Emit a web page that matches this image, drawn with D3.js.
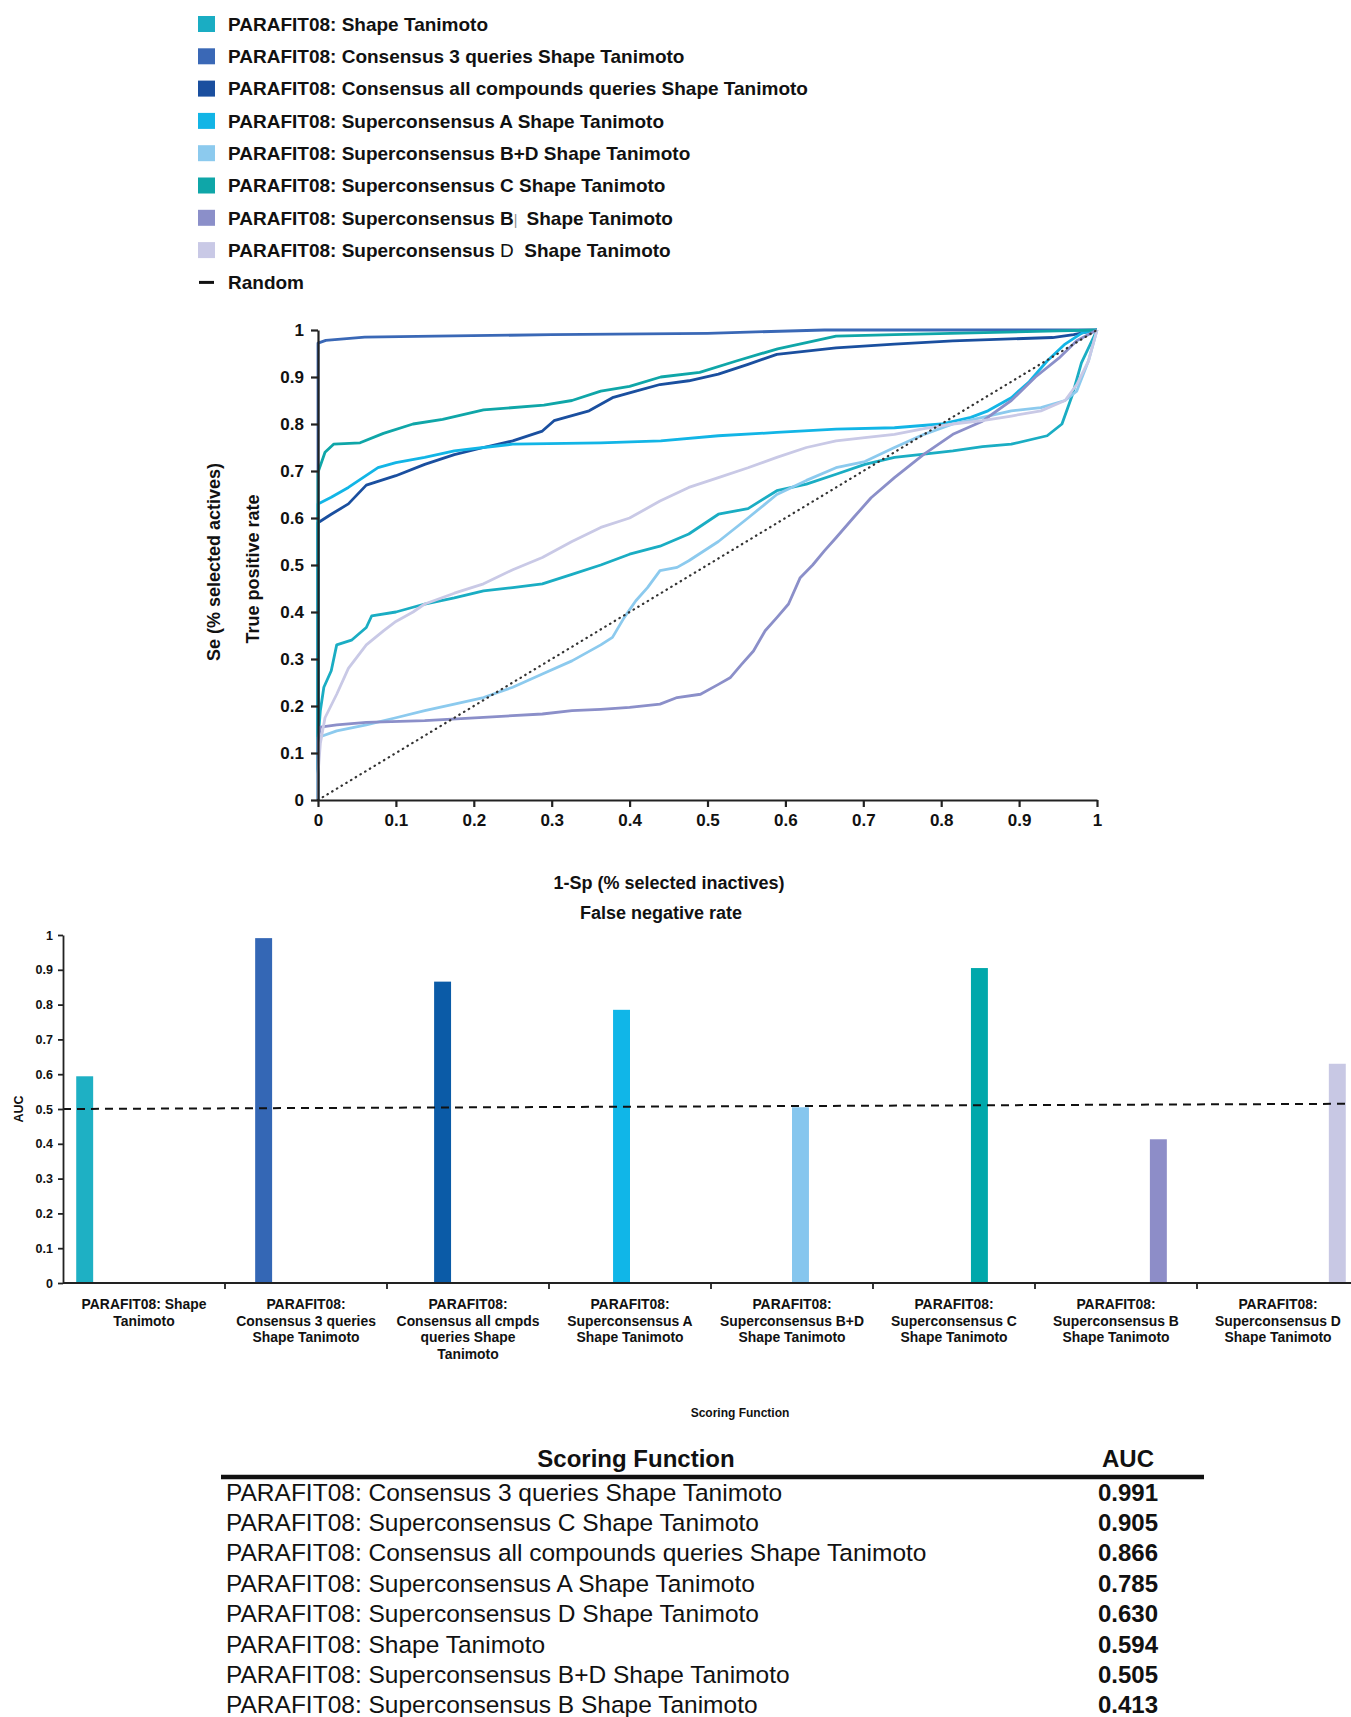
<!DOCTYPE html>
<html>
<head>
<meta charset="utf-8">
<script src="https://cdn.jsdelivr.net/npm/d3@7"></script>
<style>
  body { margin: 0; background: #fff; }
  svg { display: block; font-family: "Liberation Sans", Arial, Helvetica, sans-serif; }
  .axis path, .axis line { stroke: #222; }
  .axis text { fill: #111; font-weight: bold; }
</style>
</head>
<body>
<div id="chart"></div>
<script>
// ---- data ----

// series names as in the legend, one colour each
const seriesNames = [
  'PARAFIT08: Shape Tanimoto',
  'PARAFIT08: Consensus 3 queries Shape Tanimoto',
  'PARAFIT08: Consensus all compounds queries Shape Tanimoto',
  'PARAFIT08: Superconsensus A Shape Tanimoto',
  'PARAFIT08: Superconsensus B+D Shape Tanimoto',
  'PARAFIT08: Superconsensus C Shape Tanimoto',
  'PARAFIT08: Superconsensus B',
  'PARAFIT08: Superconsensus ',
];
const seriesColors = ['#1aadc3', '#3a68b6', '#1a4f9f', '#12b5e6', '#8ccaee', '#0fa6a8', '#8b8fc9', '#c9c9e6'];

// ROC curves, [1-Sp, Se] pairs
const rocShapeTanimoto = [[0, 0], [0, 0.126], [0.003, 0.19], [0.0075, 0.24], [0.017, 0.275], [0.024, 0.33], [0.043, 0.34],
  [0.062, 0.367], [0.069, 0.392], [0.1, 0.4], [0.137, 0.417], [0.175, 0.43], [0.2125, 0.445], [0.25, 0.452], [0.288, 0.46],
  [0.326, 0.48], [0.363, 0.5], [0.4, 0.523], [0.439, 0.54], [0.476, 0.566], [0.514, 0.608], [0.552, 0.62], [0.589, 0.658],
  [0.627, 0.672], [0.665, 0.693], [0.702, 0.714], [0.74, 0.729], [0.778, 0.736], [0.815, 0.743], [0.853, 0.752],
  [0.89, 0.757], [0.936, 0.775], [0.955, 0.8], [0.968, 0.86], [0.98, 0.93], [1, 1]];
const rocConsensus3 = [[0, 0], [0, 0.972], [0.01, 0.978], [0.06, 0.985], [0.15, 0.987], [0.3, 0.99], [0.5, 0.993],
  [0.65, 1], [1, 1]];
const rocConsensusAll = [[0, 0], [0, 0.59], [0.017, 0.608], [0.039, 0.63], [0.062, 0.67], [0.1, 0.69], [0.137, 0.714],
  [0.175, 0.735], [0.2125, 0.75], [0.25, 0.764], [0.288, 0.785], [0.303, 0.807], [0.348, 0.828], [0.378, 0.856],
  [0.408, 0.87], [0.439, 0.884], [0.476, 0.892], [0.514, 0.906], [0.552, 0.927], [0.589, 0.948], [0.665, 0.962],
  [0.74, 0.97], [0.815, 0.977], [0.943, 0.984], [0.97, 0.99], [1, 1]];
const rocSuperA = [[0, 0], [0, 0.63], [0.017, 0.644], [0.039, 0.665], [0.077, 0.707], [0.1, 0.718], [0.137, 0.729],
  [0.175, 0.743], [0.2125, 0.75], [0.25, 0.757], [0.363, 0.76], [0.44, 0.764], [0.514, 0.775], [0.589, 0.782],
  [0.665, 0.789], [0.74, 0.792], [0.8, 0.8], [0.838, 0.814], [0.86, 0.828], [0.89, 0.856], [0.913, 0.89],
  [0.936, 0.934], [0.959, 0.97], [0.981, 0.994], [1, 1]];
const rocSuperBD = [[0, 0], [0, 0.133], [0.024, 0.147], [0.062, 0.16], [0.1, 0.175], [0.137, 0.19], [0.175, 0.204],
  [0.2125, 0.218], [0.25, 0.24], [0.288, 0.268], [0.326, 0.296], [0.363, 0.33], [0.378, 0.346], [0.393, 0.388],
  [0.408, 0.424], [0.423, 0.452], [0.439, 0.488], [0.461, 0.495], [0.476, 0.509], [0.514, 0.55], [0.552, 0.6],
  [0.589, 0.65], [0.627, 0.68], [0.665, 0.707], [0.702, 0.72], [0.74, 0.75], [0.778, 0.778], [0.815, 0.8],
  [0.853, 0.814], [0.89, 0.828], [0.928, 0.835], [0.959, 0.85], [0.974, 0.87], [0.989, 0.934], [1, 1]];
const rocSuperC = [[0, 0], [0, 0.697], [0.009, 0.74], [0.02, 0.757], [0.054, 0.76], [0.084, 0.78], [0.122, 0.8],
  [0.16, 0.81], [0.2125, 0.83], [0.29, 0.84], [0.326, 0.85], [0.363, 0.87], [0.4, 0.88], [0.44, 0.9], [0.49, 0.91],
  [0.537, 0.934], [0.59, 0.96], [0.627, 0.973], [0.665, 0.987], [0.74, 0.99], [0.95, 0.998], [1, 1]];
const rocSuperB = [[0, 0], [0, 0.126], [0.003, 0.155], [0.024, 0.16], [0.062, 0.165], [0.137, 0.169], [0.2125, 0.176],
  [0.288, 0.183], [0.326, 0.19], [0.363, 0.193], [0.4, 0.197], [0.439, 0.204], [0.461, 0.218], [0.491, 0.225],
  [0.514, 0.246], [0.529, 0.26], [0.544, 0.289], [0.559, 0.317], [0.574, 0.36], [0.589, 0.388], [0.604, 0.417],
  [0.619, 0.473], [0.635, 0.5], [0.65, 0.53], [0.665, 0.558], [0.687, 0.6], [0.71, 0.643], [0.74, 0.686],
  [0.778, 0.736], [0.815, 0.778], [0.853, 0.806], [0.89, 0.85], [0.921, 0.9], [0.951, 0.94], [0.974, 0.977], [1, 1]];
const rocSuperD = [[0, 0], [0, 0.055], [0.003, 0.12], [0.009, 0.175], [0.024, 0.225], [0.039, 0.28], [0.062, 0.33],
  [0.084, 0.36], [0.1, 0.38], [0.122, 0.4], [0.137, 0.417], [0.175, 0.44], [0.2125, 0.46], [0.25, 0.49], [0.288, 0.516],
  [0.326, 0.55], [0.363, 0.58], [0.4, 0.6], [0.439, 0.636], [0.476, 0.665], [0.514, 0.686], [0.552, 0.707],
  [0.589, 0.729], [0.627, 0.75], [0.665, 0.764], [0.702, 0.771], [0.74, 0.778], [0.778, 0.79], [0.815, 0.8],
  [0.853, 0.807], [0.89, 0.817], [0.928, 0.828], [0.959, 0.85], [0.974, 0.884], [0.989, 0.934], [1, 1]];
const rocCurves = [rocShapeTanimoto, rocConsensus3, rocConsensusAll, rocSuperA, rocSuperBD, rocSuperC, rocSuperB, rocSuperD];
const randomLine = [[0, 0], [1, 1]];
const rocTicks = [0, 0.1, 0.2, 0.3, 0.4, 0.5, 0.6, 0.7, 0.8, 0.9, 1];

// bar chart: AUC per scoring function
const barCategories = [
  ['PARAFIT08: Shape', 'Tanimoto'],
  ['PARAFIT08:', 'Consensus 3 queries', 'Shape Tanimoto'],
  ['PARAFIT08:', 'Consensus all cmpds', 'queries Shape', 'Tanimoto'],
  ['PARAFIT08:', 'Superconsensus A', 'Shape Tanimoto'],
  ['PARAFIT08:', 'Superconsensus B+D', 'Shape Tanimoto'],
  ['PARAFIT08:', 'Superconsensus C', 'Shape Tanimoto'],
  ['PARAFIT08:', 'Superconsensus B', 'Shape Tanimoto'],
  ['PARAFIT08:', 'Superconsensus D', 'Shape Tanimoto'],
];
const barAuc = [0.594, 0.991, 0.866, 0.785, 0.505, 0.905, 0.413, 0.630];
const barColors = ['#1eb0c4', '#3467b5', '#0b5ba7', '#10b6e8', '#86c6ee', '#00a8ab', '#8d8dc8', '#c8c8e4'];
const barBaseline = [0.5, 0.515]; // hand-drawn dashed reference line, left and right end
const barTicks = [0, 0.1, 0.2, 0.3, 0.4, 0.5, 0.6, 0.7, 0.8, 0.9, 1];

// table, sorted by AUC
const tableNames = [
  'PARAFIT08: Consensus 3 queries Shape Tanimoto',
  'PARAFIT08: Superconsensus C Shape Tanimoto',
  'PARAFIT08: Consensus all compounds queries Shape Tanimoto',
  'PARAFIT08: Superconsensus A Shape Tanimoto',
  'PARAFIT08: Superconsensus D Shape Tanimoto',
  'PARAFIT08: Shape Tanimoto',
  'PARAFIT08: Superconsensus B+D Shape Tanimoto',
  'PARAFIT08: Superconsensus B Shape Tanimoto',
];
const tableAuc = ['0.991', '0.905', '0.866', '0.785', '0.630', '0.594', '0.505', '0.413'];

// ---- drawing ----
const width = 1351;
const height = 1717;
const svg = d3.select('#chart').append('svg')
  .attr('width', width)
  .attr('height', height);

const fmt = d => String(+d.toFixed(1));

// legend
const legend = svg.append('g').attr('class', 'legend');
const legendRow = i => 24 + i * 32.3;
seriesNames.forEach((name, i) => {
  legend.append('rect')
    .attr('x', 198).attr('y', legendRow(i) - 8)
    .attr('width', 17).attr('height', 16)
    .attr('fill', seriesColors[i]);
  const t = legend.append('text')
    .attr('x', 228).attr('y', legendRow(i) + 6.8)
    .attr('font-size', 19).attr('font-weight', 'bold')
    .attr('fill', '#111')
    .style('white-space', 'pre')
    .text(name);
  // the last two entries have pasted-in letters in the original
  if (i === 6) {
    t.append('tspan').attr('font-weight', 'normal').attr('fill', '#888').attr('font-size', 14).text('| ');
    t.append('tspan').text(' Shape Tanimoto');
  }
  if (i === 7) {
    t.append('tspan').attr('font-weight', 'normal').text('D');
    t.append('tspan').text('  Shape Tanimoto');
  }
});
legend.append('line')
  .attr('x1', 199).attr('x2', 214)
  .attr('y1', legendRow(8)).attr('y2', legendRow(8))
  .attr('stroke', '#111').attr('stroke-width', 3);
legend.append('text')
  .attr('x', 228).attr('y', legendRow(8) + 6.8)
  .attr('font-size', 19).attr('font-weight', 'bold').attr('fill', '#111')
  .text('Random');

// ROC plot
const xRoc = d3.scaleLinear().domain([0, 1]).range([318, 1097]);
const yRoc = d3.scaleLinear().domain([0, 1]).range([800, 330]);
const rocLine = d3.line().x(d => xRoc(d[0])).y(d => yRoc(d[1]));

const roc = svg.append('g').attr('class', 'roc');
roc.selectAll('path.curve')
  .data(rocCurves)
  .join('path')
  .attr('class', 'curve')
  .attr('d', rocLine)
  .attr('fill', 'none')
  .attr('stroke', (d, i) => seriesColors[i])
  .attr('stroke-width', 2.8)
  .attr('stroke-linejoin', 'round');

roc.append('path')
  .attr('d', rocLine(randomLine))
  .attr('fill', 'none')
  .attr('stroke', '#333')
  .attr('stroke-width', 2.2)
  .attr('stroke-dasharray', '0.5,5')
  .attr('stroke-linecap', 'round');

roc.append('g').attr('class', 'axis')
  .attr('transform', `translate(${xRoc(0)},0)`)
  .call(d3.axisLeft(yRoc).tickValues(rocTicks).tickFormat(fmt).tickSize(7).tickSizeOuter(0).tickPadding(7))
  .call(g => g.selectAll('path, line').attr('stroke-width', 2.2))
  .call(g => g.selectAll('text').attr('font-size', 17));

roc.append('g').attr('class', 'axis')
  .attr('transform', `translate(0,${yRoc(0)})`)
  .call(d3.axisBottom(xRoc).tickValues(rocTicks).tickFormat(fmt).tickSize(7).tickSizeOuter(0).tickPadding(7))
  .call(g => g.selectAll('path, line').attr('stroke-width', 2.2))
  .call(g => g.selectAll('text').attr('font-size', 17));

const rocTitle = (txt, x, y, rotate) => roc.append('text')
  .attr('transform', `translate(${x},${y})${rotate ? ' rotate(-90)' : ''}`)
  .attr('text-anchor', 'middle')
  .attr('font-size', 18).attr('font-weight', 'bold').attr('fill', '#111')
  .text(txt);
rocTitle('1-Sp (% selected inactives)', 669, 889, false);
rocTitle('False negative rate', 661, 919, false);
rocTitle('Se (% selected actives)', 220, 562, true);
rocTitle('True positive rate', 259, 569, true);

// bar chart: one series per scoring function, Excel-style grouped slots
const x0 = d3.scaleBand().domain(d3.range(barCategories.length)).range([63, 63 + 8 * 162]).padding(0);
const x1 = d3.scaleBand().domain(d3.range(barCategories.length)).range([0, x0.bandwidth()])
  .paddingInner(0).paddingOuter(0.78);
const yBar = d3.scaleLinear().domain([0, 1]).range([1283, 935]);

const bars = svg.append('g').attr('class', 'bars');
bars.selectAll('rect')
  .data(barAuc)
  .join('rect')
  .attr('x', (d, i) => x0(i) + x1(i))
  .attr('width', x1.bandwidth())
  .attr('y', d => yBar(d))
  .attr('height', d => yBar(0) - yBar(d))
  .attr('fill', (d, i) => barColors[i]);

bars.append('line')
  .attr('x1', x0(0)).attr('x2', width)
  .attr('y1', yBar(barBaseline[0]))
  .attr('y2', yBar(barBaseline[1]))
  .attr('stroke', '#111').attr('stroke-width', 2)
  .attr('stroke-dasharray', '8,6');

bars.append('g').attr('class', 'axis')
  .attr('transform', `translate(${x0(0)},0)`)
  .call(d3.axisLeft(yBar).tickValues(barTicks).tickFormat(fmt).tickSize(5).tickSizeOuter(0).tickPadding(5))
  .call(g => g.selectAll('path, line').attr('stroke-width', 1.8))
  .call(g => g.selectAll('text').attr('font-size', 12.5));

// category axis: ticks between categories, labels centred
const catAxis = bars.append('g').attr('class', 'axis');
catAxis.append('line')
  .attr('x1', x0(0)).attr('x2', x0.range()[1])
  .attr('y1', yBar(0)).attr('y2', yBar(0))
  .attr('stroke-width', 2.2);
catAxis.selectAll('line.tick')
  .data(d3.range(1, barCategories.length + 1))
  .join('line')
  .attr('class', 'tick')
  .attr('x1', i => x0.range()[0] + i * x0.step())
  .attr('x2', i => x0.range()[0] + i * x0.step())
  .attr('y1', yBar(0)).attr('y2', yBar(0) + 6)
  .attr('stroke-width', 1.8);
catAxis.selectAll('text.cat')
  .data(barCategories)
  .join('text')
  .attr('class', 'cat')
  .attr('text-anchor', 'middle')
  .attr('font-size', 13.9)
  .attr('y', yBar(0) + 26)
  .each(function addLines(lines, i) {
    d3.select(this).selectAll('tspan')
      .data(lines)
      .join('tspan')
      .attr('x', x0(i) + x0.bandwidth() / 2)
      .attr('dy', (d, k) => (k === 0 ? 0 : 16.5))
      .text(d => d);
  });

bars.append('text')
  .attr('transform', `translate(23,${yBar(0.5)}) rotate(-90)`)
  .attr('text-anchor', 'middle')
  .attr('font-size', 12.5).attr('font-weight', 'bold').attr('fill', '#111')
  .text('AUC');
bars.append('text')
  .attr('x', 740).attr('y', 1417)
  .attr('text-anchor', 'middle')
  .attr('font-size', 12).attr('font-weight', 'bold').attr('fill', '#111')
  .text('Scoring Function');

// table
const table = svg.append('g').attr('class', 'table');
table.append('text')
  .attr('x', 636).attr('y', 1467)
  .attr('text-anchor', 'middle')
  .attr('font-size', 24).attr('font-weight', 'bold').attr('fill', '#111')
  .text('Scoring Function');
table.append('text')
  .attr('x', 1128).attr('y', 1467)
  .attr('text-anchor', 'middle')
  .attr('font-size', 24).attr('font-weight', 'bold').attr('fill', '#111')
  .text('AUC');
table.append('line')
  .attr('x1', 221).attr('x2', 1204)
  .attr('y1', 1477).attr('y2', 1477)
  .attr('stroke', '#111').attr('stroke-width', 4.5);

const rowY = i => 1500.6 + i * 30.4;
table.selectAll('text.name')
  .data(tableNames)
  .join('text')
  .attr('class', 'name')
  .attr('x', 226)
  .attr('y', (d, i) => rowY(i))
  .attr('font-size', 24.5).attr('fill', '#111')
  .text(d => d);
table.selectAll('text.auc')
  .data(tableAuc)
  .join('text')
  .attr('class', 'auc')
  .attr('x', 1128)
  .attr('y', (d, i) => rowY(i))
  .attr('text-anchor', 'middle')
  .attr('font-size', 24).attr('font-weight', 'bold').attr('fill', '#111')
  .text(d => d);
</script>
</body>
</html>
